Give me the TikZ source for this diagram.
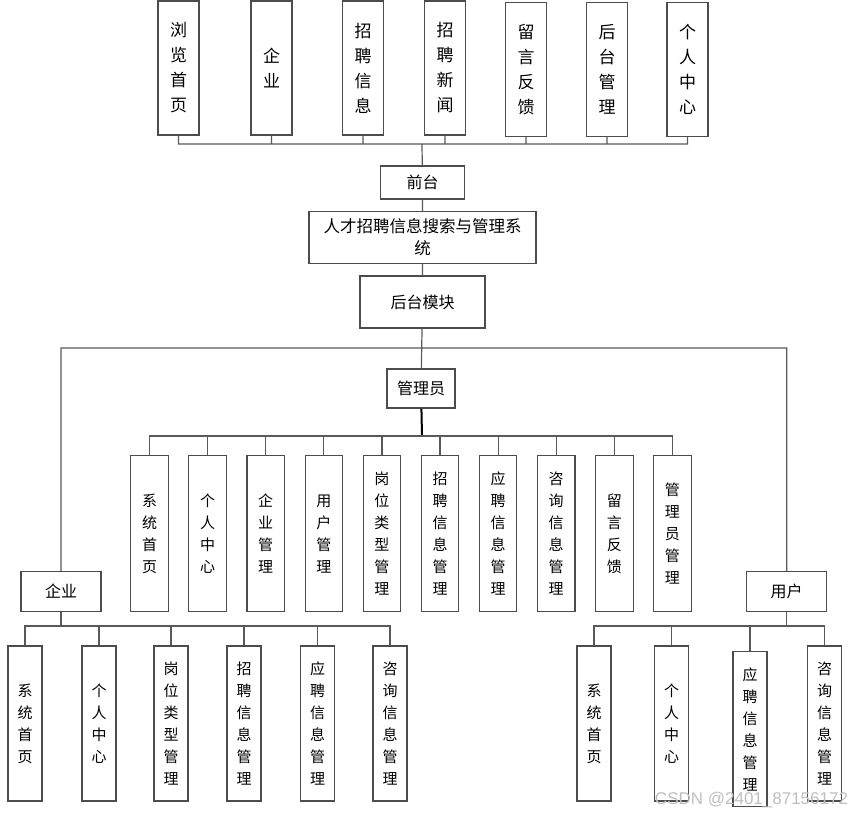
\documentclass[tikz,border=0pt]{standalone}
\usepackage{fontspec}
\newfontfamily\cjk{Noto Sans CJK SC}
\newfontfamily\wmfont{Liberation Sans}
\usetikzlibrary{positioning}

\tikzset{
  box/.style={draw=black!70, line width=1.1pt, fill=white, align=center, inner sep=0pt,
              font=\cjk\fontsize{16}{22}\selectfont},
  topitem/.style={box, minimum width=41pt, minimum height=134pt, font=\cjk\fontsize{17}{25}\selectfont},
  item/.style={box, minimum width=37.5pt, minimum height=156pt, font=\cjk\fontsize{15}{22}\selectfont},
  subitem/.style={box, minimum width=34pt, minimum height=155pt, font=\cjk\fontsize{15}{22}\selectfont},
  link/.style={draw=black!65, line width=1.2pt}
}

\begin{document}
\begin{tikzpicture}[x=1pt,y=-1pt]

  \useasboundingbox (0,0) rectangle (851,815);

  % front end
  \node[topitem] (liulan) at (178.5,68)   {浏\\览\\首\\页};
  \node[topitem] (qiye)   at (271.5,68)   {企\\业};
  \node[topitem] (zpxx)   at (363,68)     {招\\聘\\信\\息};
  \node[topitem] (zpxw)   at (445,68)     {招\\聘\\新\\闻};
  \node[topitem] (lyfk)   at (526,69.5)   {留\\言\\反\\馈};
  \node[topitem] (htgl)   at (607,69.5)   {后\\台\\管\\理};
  \node[topitem] (grzx)   at (687.5,69.5) {个\\人\\中\\心};

  \node[box, minimum width=84pt,  minimum height=33pt] (qiantai) at (422.5,182.5) {前台};
  \node[box, minimum width=227pt, minimum height=52pt,
        font=\cjk\fontsize{16.5}{22}\selectfont]      (xitong)  at (422.5,237.5) {人才招聘信息搜索与管理系\\统};
  \node[box, minimum width=125pt, minimum height=52pt] (houtai)  at (422.5,302)   {后台模块};

  % back end
  \node[box, minimum width=68pt, minimum height=39pt] (admin) at (421,388.5)   {管理员};
  \node[box, minimum width=80pt, minimum height=40pt] (corp)  at (61,591.5)    {企业};
  \node[box, minimum width=80pt, minimum height=40pt] (user)  at (786.7,591.5) {用户};

  \node[item] (a1)  at (149.5,533.6) {系\\统\\首\\页};
  \node[item] (a2)  at (207.6,533.6) {个\\人\\中\\心};
  \node[item] (a3)  at (265.7,533.6) {企\\业\\管\\理};
  \node[item] (a4)  at (323.8,533.6) {用\\户\\管\\理};
  \node[item] (a5)  at (381.9,533.6) {岗\\位\\类\\型\\管\\理};
  \node[item] (a6)  at (440,533.6)   {招\\聘\\信\\息\\管\\理};
  \node[item] (a7)  at (498.1,533.6) {应\\聘\\信\\息\\管\\理};
  \node[item] (a8)  at (556.2,533.6) {咨\\询\\信\\息\\管\\理};
  \node[item] (a9)  at (614.3,533.6) {留\\言\\反\\馈};
  \node[item] (a10) at (672.4,533.6) {管\\理\\员\\管\\理};

  \node[subitem] (c1) at (25,723.5)    {系\\统\\首\\页};
  \node[subitem] (c2) at (99,723.5)    {个\\人\\中\\心};
  \node[subitem] (c3) at (171,723.5)   {岗\\位\\类\\型\\管\\理};
  \node[subitem] (c4) at (244,723.5)   {招\\聘\\信\\息\\管\\理};
  \node[subitem] (c5) at (317.5,723.5) {应\\聘\\信\\息\\管\\理};
  \node[subitem] (c6) at (390,723.5)   {咨\\询\\信\\息\\管\\理};

  \node[subitem] (u1) at (594,723.5)   {系\\统\\首\\页};
  \node[subitem] (u2) at (671.5,723.5) {个\\人\\中\\心};
  \node[subitem] (u3) at (750,729)     {应\\聘\\信\\息\\管\\理};
  \node[subitem] (u4) at (824.5,723.5) {咨\\询\\信\\息\\管\\理};

  % bus points
  \coordinate (topbus) at (422,144);
  \coordinate (hbus)   at (422,348);
  \coordinate (abus)   at (422,436);
  \coordinate (cbus)   at (61,626);
  \coordinate (ubus)   at (786.7,626);

  \path[link] (liulan) |- (topbus)
              (qiye)   |- (topbus)
              (zpxx)   |- (topbus)
              (zpxw)   |- (topbus)
              (lyfk)   |- (topbus)
              (htgl)   |- (topbus)
              (grzx)   |- (topbus)
              (topbus) -- (qiantai);

  \path[link] (qiantai) -- (xitong)
              (xitong)  -- (houtai)
              (houtai)  -- (admin)
              (corp)    |- (hbus) -| (user);

  \path[link, draw=black, line width=2pt] (admin) -- (abus);
  \path[link] (a1) |- (abus)  (a2) |- (abus)  (a3) |- (abus)
              (a4) |- (abus)  (a5) |- (abus)  (a6) |- (abus)
              (a7) |- (abus)  (a8) |- (abus)  (a9) |- (abus)
              (a10) |- (abus);

  \path[link] (corp) -- (cbus)
              (c1) |- (cbus)  (c2) |- (cbus)  (c3) |- (cbus)
              (c4) |- (cbus)  (c5) |- (cbus)  (c6) |- (cbus);

  \path[link] (user) -- (ubus)
              (u1) |- (ubus)  (u2) |- (ubus)
              (u3) |- (ubus)  (u4) |- (ubus);

  % watermark
  \node[text=black!25, font=\wmfont\fontsize{17}{20}\selectfont] (mark) at (751.5,800) {CSDN @2401\_87156172};

\end{tikzpicture}
\end{document}
